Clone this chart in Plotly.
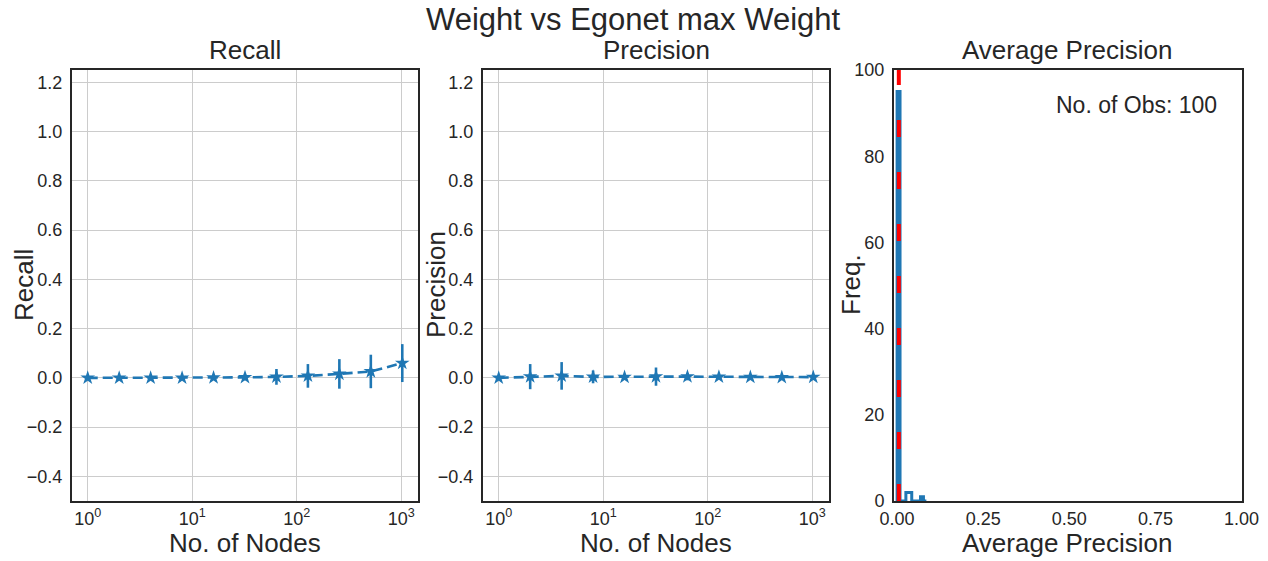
import plotly.graph_objects as go

# ---------------- data ----------------
nodes = [1, 2, 4, 8, 16, 32, 64, 128, 256, 512, 1024]
recall_mean = [0.0, 0.0, 0.0, 0.0, 0.001, 0.002, 0.004, 0.008, 0.016, 0.026, 0.060]
recall_std = [0.0, 0.0, 0.0, 0.003, 0.005, 0.012, 0.032, 0.048, 0.060, 0.068, 0.077]
precision_mean = [0.0, 0.005, 0.008, 0.004, 0.003, 0.005, 0.005, 0.004, 0.003, 0.002, 0.003]
precision_std = [0.0, 0.051, 0.056, 0.026, 0.010, 0.037, 0.015, 0.008, 0.005, 0.004, 0.004]

ap_bin_edges = [0.0, 0.0085, 0.017, 0.0255, 0.034, 0.0425, 0.051, 0.0595, 0.068, 0.0765, 0.085]
ap_counts = [95, 0, 0, 2, 2, 0, 0, 0, 1, 0]
ap_mean = 0.005
n_obs = 100

log_tickvals = [1, 10, 100, 1000]
log_ticktext = ["10<sup>0</sup>", "10<sup>1</sup>", "10<sup>2</sup>", "10<sup>3</sup>"]
hist_tickvals = [0, 0.25, 0.5, 0.75, 1.0]
hist_ticktext = ["0.00", "0.25", "0.50", "0.75", "1.00"]

# ---------------- style ----------------
W, H = 1268, 561
BLUE = "#1f77b4"
DARK = "#262626"
FONT = "Liberation Sans"
GRID = "#cccccc"

def px_x(p):
    return p / W

def px_y(p):
    return (H - p) / H

dom_y = [px_y(501), px_y(70)]
dom1 = [px_x(72), px_x(418)]
dom2 = [px_x(483), px_x(829)]
dom3 = [px_x(894), px_x(1241.5)]

fig = go.Figure()

# step outline of histogram built from counts
step_x = [ap_bin_edges[0]]
step_y = [0]
for i, c in enumerate(ap_counts):
    step_x += [ap_bin_edges[i], ap_bin_edges[i + 1]]
    step_y += [c, c]
step_x.append(ap_bin_edges[-1])
step_y.append(0)

for xa, ya, mean, std in [("x", "y", recall_mean, recall_std), ("x2", "y2", precision_mean, precision_std)]:
    fig.add_trace(go.Scatter(
        x=nodes, y=mean, xaxis=xa, yaxis=ya, mode="lines+markers",
        line=dict(color=BLUE, width=2.6, dash="10px,5px"),
        marker=dict(symbol="star", size=11, color=BLUE, line=dict(width=0)),
        error_y=dict(type="data", array=std, visible=True, color=BLUE, thickness=2.6, width=0),
        showlegend=False, cliponaxis=False,
    ))

fig.add_trace(go.Scatter(
    x=step_x, y=step_y, xaxis="x3", yaxis="y3", mode="lines",
    line=dict(color=BLUE, width=3, shape="linear"), showlegend=False,
))

fig.add_shape(type="line", xref="x3", yref="y3", x0=ap_mean, x1=ap_mean, y0=0, y1=100,
              line=dict(color="#ff0000", width=4, dash="17px,35px"))

axis_common = dict(
    showline=True, mirror=True, linecolor=DARK, linewidth=2,
    ticks="", tickfont=dict(family=FONT, size=18, color=DARK),
    zeroline=False, automargin=False,
)

fig.update_layout(
    width=W, height=H,
    margin=dict(l=0, r=0, t=0, b=0, autoexpand=False),
    paper_bgcolor="white", plot_bgcolor="white",
    font=dict(family=FONT, color=DARK),
    xaxis=dict(domain=dom1, anchor="y", type="log", range=[-0.1505, 3.1608],
               tickvals=log_tickvals, ticktext=log_ticktext,
               showgrid=True, gridcolor=GRID, gridwidth=1.3, **axis_common),
    yaxis=dict(domain=dom_y, anchor="x", range=[-0.5, 1.25], tickvals=[-0.4, -0.2, 0, 0.2, 0.4, 0.6, 0.8, 1.0, 1.2],
               tickformat=".1f", showgrid=True, gridcolor=GRID, gridwidth=1.3, ticklabelstandoff=4, **axis_common),
    xaxis2=dict(domain=dom2, anchor="y2", type="log", range=[-0.1505, 3.1608],
                tickvals=log_tickvals, ticktext=log_ticktext,
                showgrid=True, gridcolor=GRID, gridwidth=1.3, **axis_common),
    yaxis2=dict(domain=dom_y, anchor="x2", range=[-0.5, 1.25], tickvals=[-0.4, -0.2, 0, 0.2, 0.4, 0.6, 0.8, 1.0, 1.2],
                tickformat=".1f", showgrid=True, gridcolor=GRID, gridwidth=1.3, ticklabelstandoff=4, **axis_common),
    xaxis3=dict(domain=dom3, anchor="y3", range=[-0.009, 1.0],
                tickvals=hist_tickvals, ticktext=hist_ticktext, showgrid=False, **axis_common),
    yaxis3=dict(domain=dom_y, anchor="x3", range=[0, 100], tickvals=[0, 20, 40, 60, 80, 100],
                showgrid=False, ticklabelstandoff=4, **axis_common),
)

def ann(text, x, y, size, angle=0):
    fig.add_annotation(text=text, x=x, y=y, xref="paper", yref="paper",
                       showarrow=False, textangle=angle, xanchor="center", yanchor="middle",
                       font=dict(family=FONT, size=size, color=DARK))

ann("Weight vs Egonet max Weight", px_x(632.5), px_y(20), 31)
ann("Recall", px_x(245), px_y(50), 26)
ann("Precision", px_x(656), px_y(50), 26)
ann("Average Precision", px_x(1067.5), px_y(50), 26)
ann("No. of Nodes", px_x(245), px_y(543), 26)
ann("No. of Nodes", px_x(656), px_y(543), 26)
ann("Average Precision", px_x(1067.5), px_y(543), 26)
ann("Recall", px_x(24), px_y(285), 26, -90)
ann("Precision", px_x(436), px_y(285), 26, -90)
ann("Freq.", px_x(851), px_y(285), 26, -90)
ann("No. of Obs: 100", px_x(1136.5), px_y(105), 23)

fig.write_html("out.html", config={"displayModeBar": False},
               post_script="document.body.style.margin='0';document.body.style.overflow='hidden';")
